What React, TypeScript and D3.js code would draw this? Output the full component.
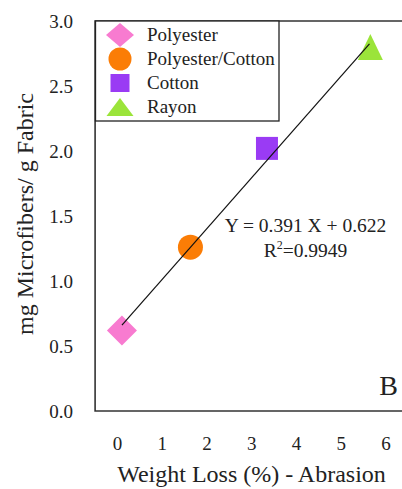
import React from 'react';
import * as d3 from 'd3';

// fabric types and their measured values
const fabrics = ['Polyester', 'Polyester/Cotton', 'Cotton', 'Rayon'];
const weightLoss = [0.1, 1.63, 3.34, 5.65];
const microfibers = [0.62, 1.26, 2.02, 2.8];
const fabricColors = ['#f87bd0', '#fb7d06', '#9a3bf4', '#9be43a'];
const fabricShapes = ['diamond', 'circle', 'square', 'triangle'];

const xTicks = [0, 1, 2, 3, 4, 5, 6];
const yTicks = [0.0, 0.5, 1.0, 1.5, 2.0, 2.5, 3.0];

const slope = 0.391;
const intercept = 0.622;

const W = 402;
const H = 489;
const FONT = "'Liberation Serif', 'Times New Roman', Times, serif";

// marker sizes [w, h] on the plot and in the legend
const markerSize = [[30, 30], [25, 25], [22, 23], [25, 26]];
const legendSize = [[28, 24], [23, 23], [19, 18], [27, 18]];

function marker(shape: string, w: number, h: number) {
  const p = d3.path();
  if (shape === 'diamond') {
    p.moveTo(0, -h / 2); p.lineTo(w / 2, 0); p.lineTo(0, h / 2); p.lineTo(-w / 2, 0); p.closePath();
  } else if (shape === 'circle') {
    p.moveTo(w / 2, 0); p.arc(0, 0, w / 2, 0, Math.PI * 2);
  } else if (shape === 'square') {
    p.rect(-w / 2, -h / 2, w, h);
  } else {
    p.moveTo(0, -h / 2); p.lineTo(w / 2, h / 2); p.lineTo(-w / 2, h / 2); p.closePath();
  }
  return p.toString();
}

const txt = { fontFamily: FONT, fill: '#222' };

export default function App() {
  const x = d3.scaleLinear().domain([-0.5, 6.5]).range([95.1, 408.4]);
  const y = d3.scaleLinear().domain([0, 3]).range([411, 21]);

  const fitX = [weightLoss[0], weightLoss[weightLoss.length - 1] - 0.02];
  const fitLine = d3.line<number>()
    .x(d => x(d))
    .y(d => y(slope * d + intercept));

  const [x0] = x.range();
  const [yb, yt] = y.range();
  const x1 = W + 5;

  return (
    <div style={{ position: 'fixed', left: 0, top: 0 }}>
      <svg width={W} height={H} style={{ display: 'block', background: '#fff', fontFamily: FONT }}>
        {/* frame */}
        <path d={`M${x1},${yt}H${x0}V${yb}H${x1}`} fill="none" stroke="#333" strokeWidth={1.6} />

        {/* y ticks */}
        {yTicks.map(t => (
          <text key={t} x={73} y={y(t)} dy="0.35em" textAnchor="end" fontSize={19} style={txt}>
            {t.toFixed(1)}
          </text>
        ))}

        {/* x ticks */}
        {xTicks.map(t => (
          <text key={t} x={x(t)} y={450} textAnchor="middle" fontSize={19} style={txt}>
            {t}
          </text>
        ))}

        {/* axis titles */}
        <text x={251.5} y={482} textAnchor="middle" fontSize={24} style={txt}>
          Weight Loss (%) - Abrasion
        </text>
        <text transform={`translate(33,214) rotate(-90)`} textAnchor="middle" fontSize={24} style={txt}>
          mg Microfibers/ g Fabric
        </text>

        {/* data points */}
        {fabrics.map((f, i) => (
          <path
            key={f}
            d={marker(fabricShapes[i], markerSize[i][0], markerSize[i][1])}
            transform={`translate(${x(weightLoss[i])},${y(microfibers[i])})`}
            fill={fabricColors[i]}
          />
        ))}

        {/* regression line */}
        <path d={fitLine(fitX) || ''} fill="none" stroke="#111" strokeWidth={1.2} />

        {/* equation */}
        <text x={305.5} y={232} textAnchor="middle" fontSize={19.5} style={txt}>
          Y = 0.391 X + 0.622
        </text>
        <text x={305.5} y={257} textAnchor="middle" fontSize={19.5} style={txt}>
          R<tspan dy={-8} fontSize={12}>2</tspan><tspan dy={8}>=0.9949</tspan>
        </text>

        {/* panel letter */}
        <text x={398} y={395} textAnchor="end" fontSize={28} style={txt}>B</text>

        {/* legend */}
        <rect x={95.5} y={21} width={183.5} height={100} fill="#fff" stroke="#222" strokeWidth={1.3} />
        {fabrics.map((f, i) => {
          const ly = 35 + i * 24;
          return (
            <g key={f}>
              <path d={marker(fabricShapes[i], legendSize[i][0], legendSize[i][1])} transform={`translate(120,${ly})`} fill={fabricColors[i]} />
              <text x={147} y={ly + 6} fontSize={19} style={txt}>{f}</text>
            </g>
          );
        })}
      </svg>
    </div>
  );
}
